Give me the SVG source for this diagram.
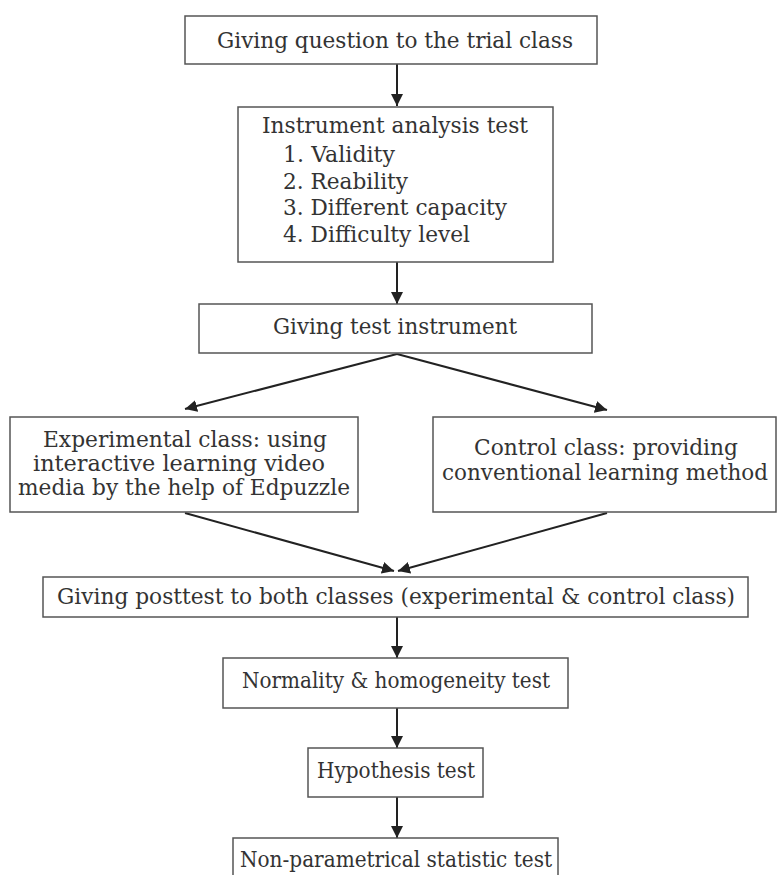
<svg xmlns="http://www.w3.org/2000/svg" width="777" height="875" viewBox="0 0 777 875">
<style>
.box{fill:#fff;stroke:#555;stroke-width:1.5}
.t{font-family:"DejaVu Serif","Liberation Serif",serif;font-size:23px;fill:#333}
.c{text-anchor:middle}
.ln{stroke:#222;stroke-width:2;fill:none;marker-end:url(#ah)}
</style>
<defs>
<marker id="ah" markerUnits="userSpaceOnUse" markerWidth="12" markerHeight="12" viewBox="0 0 12 12" refX="12" refY="6" orient="auto">
<path d="M0,0 L12,6 L0,12 z" fill="#222"/>
</marker>
</defs>
<rect width="777" height="875" fill="#fff"/>
<g id="connectors">
<line class="ln" x1="397" y1="64" x2="397" y2="106"/>
<line class="ln" x1="397" y1="262" x2="397" y2="304"/>
<line class="ln" x1="397" y1="354" x2="185" y2="409"/>
<line class="ln" x1="397" y1="354" x2="607" y2="410"/>
<line class="ln" x1="185" y1="513" x2="394" y2="571"/>
<line class="ln" x1="607" y1="513" x2="398" y2="571"/>
<line class="ln" x1="397" y1="617" x2="397" y2="658"/>
<line class="ln" x1="397" y1="708" x2="397" y2="748"/>
<line class="ln" x1="397" y1="797" x2="397" y2="838"/>
</g>
<g id="n1">
<rect class="box" x="185" y="16" width="412" height="48"/>
<text class="t c" x="395" y="48" textLength="356" lengthAdjust="spacingAndGlyphs">Giving question to the trial class</text>
</g>
<g id="n2">
<rect class="box" x="238" y="107" width="315" height="155"/>
<text class="t" x="262" y="133" textLength="266" lengthAdjust="spacingAndGlyphs">Instrument analysis test</text>
<text class="t" x="283" y="162" textLength="112" lengthAdjust="spacingAndGlyphs">1. Validity</text>
<text class="t" x="283" y="189" textLength="125" lengthAdjust="spacingAndGlyphs">2. Reability</text>
<text class="t" x="283" y="215" textLength="224" lengthAdjust="spacingAndGlyphs">3. Different capacity</text>
<text class="t" x="283" y="242" textLength="187" lengthAdjust="spacingAndGlyphs">4. Difficulty level</text>
</g>
<g id="n3">
<rect class="box" x="199" y="304" width="393" height="49"/>
<text class="t" x="273" y="334" textLength="244" lengthAdjust="spacingAndGlyphs">Giving test instrument</text>
</g>
<g id="n4">
<rect class="box" x="10" y="417" width="348" height="95"/>
<text class="t" x="43" y="447" textLength="284" lengthAdjust="spacingAndGlyphs">Experimental class: using</text>
<text class="t" x="33" y="471" textLength="292" lengthAdjust="spacingAndGlyphs">interactive learning video</text>
<text class="t" x="18" y="495" textLength="332" lengthAdjust="spacingAndGlyphs">media by the help of Edpuzzle</text>
</g>
<g id="n5">
<rect class="box" x="433" y="417" width="343" height="95"/>
<text class="t" x="474" y="455" textLength="264" lengthAdjust="spacingAndGlyphs">Control class: providing</text>
<text class="t" x="442" y="480" style="font-size:21.5px" textLength="326" lengthAdjust="spacingAndGlyphs">conventional learning method</text>
</g>
<g id="n6">
<rect class="box" x="43" y="577" width="705" height="40"/>
<text class="t" x="57" y="604" textLength="678" lengthAdjust="spacingAndGlyphs">Giving posttest to both classes (experimental &amp; control class)</text>
</g>
<g id="n7">
<rect class="box" x="223" y="658" width="345" height="50"/>
<text class="t" x="242" y="688" textLength="308" lengthAdjust="spacingAndGlyphs">Normality &amp; homogeneity test</text>
</g>
<g id="n8">
<rect class="box" x="308" y="748" width="175" height="49"/>
<text class="t" x="317" y="778" textLength="158" lengthAdjust="spacingAndGlyphs">Hypothesis test</text>
</g>
<g id="n9">
<rect class="box" x="233" y="838" width="325" height="45"/>
<text class="t" x="240" y="867" textLength="312" lengthAdjust="spacingAndGlyphs">Non-parametrical statistic test</text>
</g>
</svg>
